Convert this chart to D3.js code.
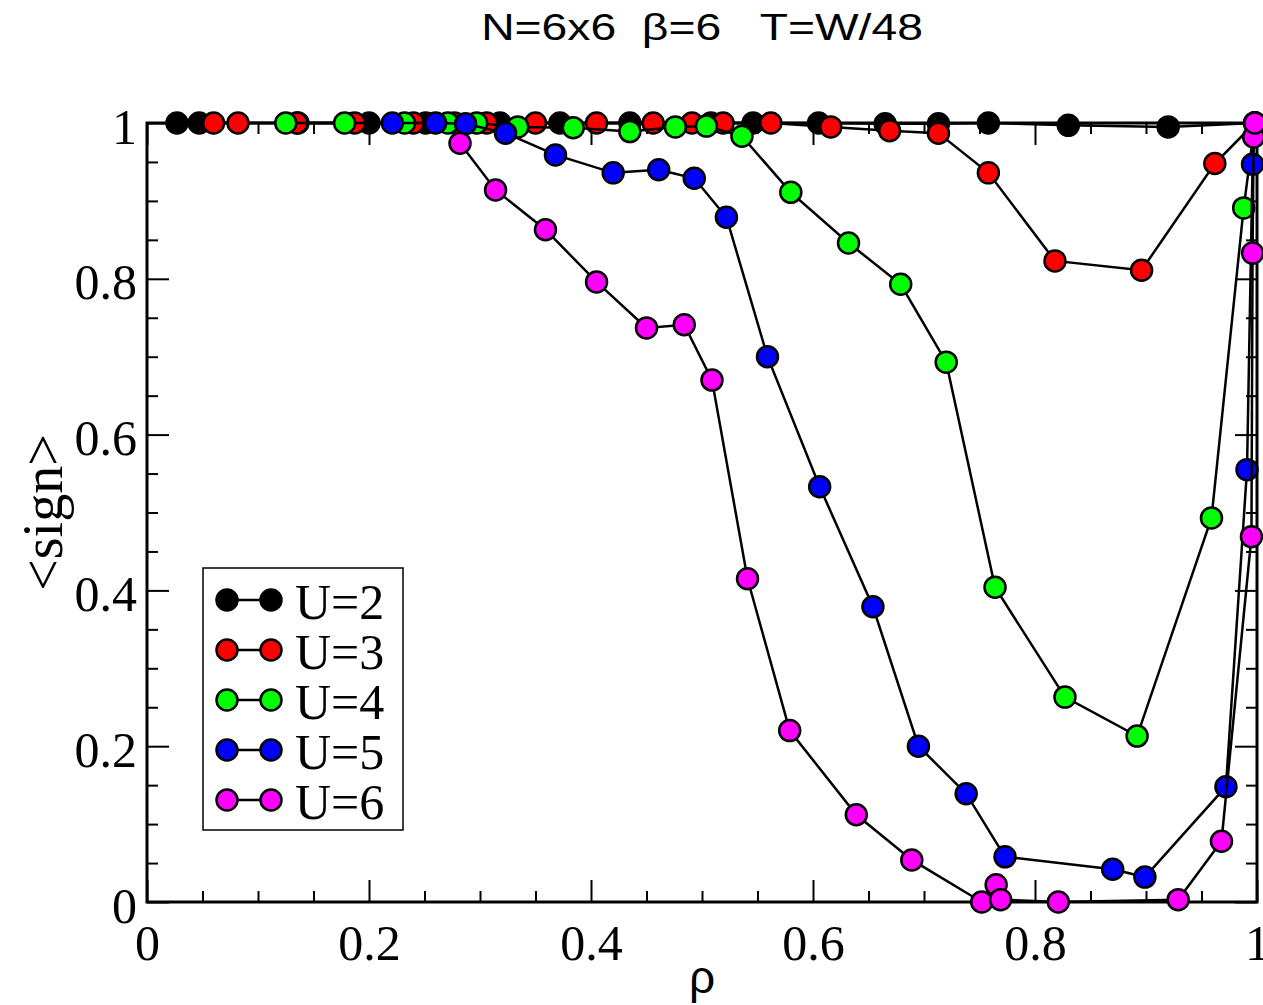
<!DOCTYPE html>
<html>
<head>
<meta charset="utf-8">
<script src="https://cdn.jsdelivr.net/npm/d3@7"></script>
<style>
  html, body { margin: 0; padding: 0; background: #fff; }
  svg { display: block; }
</style>
</head>
<body>
<svg id="chart" width="1263" height="1005"></svg>
<script>
// ---------- data ----------
const title = "N=6x6  \u03b2=6   T=W/48";
const xLabel = "\u03c1";
const yLabel = "<sign>";
const seriesNames = ["U=2", "U=3", "U=4", "U=5", "U=6"];
const seriesColors = ["#000000", "#ff0000", "#00ff00", "#0000ff", "#ff00ff"];

const rhoU2 = [0.027, 0.047, 0.136, 0.200, 0.251, 0.318, 0.372, 0.435, 0.508, 0.546, 0.605, 0.665, 0.713, 0.758, 0.830, 0.920, 0.998];
const signU2 = [1.000, 1.000, 1.000, 1.000, 1.000, 1.000, 1.000, 1.000, 1.000, 1.000, 1.000, 0.999, 0.999, 1.000, 0.997, 0.995, 1.000];

const rhoU3 = [0.060, 0.082, 0.135, 0.187, 0.240, 0.277, 0.306, 0.350, 0.405, 0.456, 0.491, 0.519, 0.562, 0.616, 0.669, 0.713, 0.758, 0.818, 0.896, 0.962, 0.998];
const signU3 = [1.000, 1.000, 1.000, 1.000, 1.000, 1.000, 1.000, 1.000, 1.000, 1.000, 1.000, 1.000, 1.000, 0.995, 0.990, 0.987, 0.936, 0.823, 0.811, 0.948, 1.000];

const rhoU4 = [0.125, 0.178, 0.232, 0.271, 0.297, 0.334, 0.384, 0.435, 0.476, 0.504, 0.536, 0.580, 0.632, 0.679, 0.720, 0.764, 0.827, 0.892, 0.959, 0.988, 0.998];
const signU4 = [1.000, 1.000, 1.000, 1.000, 1.000, 0.995, 0.994, 0.989, 0.995, 0.996, 0.983, 0.911, 0.846, 0.793, 0.693, 0.404, 0.263, 0.213, 0.493, 0.891, 1.000];

const rhoU5 = [0.221, 0.260, 0.287, 0.323, 0.368, 0.420, 0.461, 0.493, 0.522, 0.559, 0.606, 0.654, 0.695, 0.738, 0.773, 0.870, 0.899, 0.972, 0.991, 0.996, 0.998];
const signU5 = [1.000, 1.000, 0.999, 0.987, 0.959, 0.936, 0.940, 0.929, 0.879, 0.700, 0.533, 0.379, 0.200, 0.139, 0.058, 0.042, 0.032, 0.148, 0.555, 0.947, 1.000];

const rhoU6 = [0.282, 0.314, 0.359, 0.405, 0.450, 0.484, 0.509, 0.541, 0.579, 0.639, 0.689, 0.752, 0.765, 0.769, 0.821, 0.929, 0.968, 0.995, 0.996, 0.997, 0.998];
const signU6 = [0.974, 0.914, 0.863, 0.796, 0.737, 0.741, 0.670, 0.415, 0.220, 0.112, 0.054, 0.000, 0.022, 0.003, 0.000, 0.003, 0.078, 0.469, 0.833, 0.982, 1.000];

const xMajorTicks = [0, 0.2, 0.4, 0.6, 0.8, 1];
const yMajorTicks = [0, 0.2, 0.4, 0.6, 0.8, 1];
const xTickLabels = ["0", "0.2", "0.4", "0.6", "0.8", "1"];
const yTickLabels = ["0", "0.2", "0.4", "0.6", "0.8", "1"];

const seriesX = [rhoU2, rhoU3, rhoU4, rhoU5, rhoU6];
const seriesY = [signU2, signU3, signU4, signU5, signU6];

// ---------- layout ----------
const L = 147, R = 1257, T = 123, B = 902;
const svg = d3.select("#chart");
const x = d3.scaleLinear().domain([0, 1]).range([L, R]);
const y = d3.scaleLinear().domain([0, 1]).range([B, T]);
const minorTicks = d3.range(0, 1.0001, 0.05).map(v => +v.toFixed(2)).filter(v => !xMajorTicks.some(m => Math.abs(m - v) < 1e-9));

const serif = "'Liberation Serif', 'Times New Roman', serif";
const sans = "'Liberation Sans', Arial, sans-serif";

function styleAxis(g) {
  g.select(".domain").remove();
  g.selectAll(".tick line").attr("stroke", "#000").attr("stroke-width", 2);
}

// minor ticks (inward)
svg.append("g").attr("transform", `translate(0,${B})`)
  .call(d3.axisBottom(x).tickValues(minorTicks).tickSize(-11).tickFormat(""))
  .call(styleAxis);
svg.append("g").attr("transform", `translate(0,${T})`)
  .call(d3.axisTop(x).tickValues(minorTicks).tickSize(-11).tickFormat(""))
  .call(styleAxis);
svg.append("g").attr("transform", `translate(${L},0)`)
  .call(d3.axisLeft(y).tickValues(minorTicks).tickSize(-11).tickFormat(""))
  .call(styleAxis);
svg.append("g").attr("transform", `translate(${R},0)`)
  .call(d3.axisRight(y).tickValues(minorTicks).tickSize(-11).tickFormat(""))
  .call(styleAxis);

// major ticks
const xb = svg.append("g").attr("transform", `translate(0,${B})`)
  .call(d3.axisBottom(x).tickValues(xMajorTicks).tickSize(-22).tickPadding(0)
        .tickFormat((d, i) => xTickLabels[i]))
  .call(styleAxis);
xb.selectAll(".tick text").attr("y", 58).attr("dy", null)
  .attr("font-family", serif).attr("font-size", 50).attr("fill", "#000");

svg.append("g").attr("transform", `translate(0,${T})`)
  .call(d3.axisTop(x).tickValues(xMajorTicks).tickSize(-22).tickFormat(""))
  .call(styleAxis);

const yl = svg.append("g").attr("transform", `translate(${L},0)`)
  .call(d3.axisLeft(y).tickValues(yMajorTicks).tickSize(-22)
        .tickFormat((d, i) => yTickLabels[i]))
  .call(styleAxis);
yl.selectAll(".tick text").attr("x", -10).attr("dy", "0.40em")
  .attr("font-family", serif).attr("font-size", 50).attr("fill", "#000");

svg.append("g").attr("transform", `translate(${R},0)`)
  .call(d3.axisRight(y).tickValues(yMajorTicks).tickSize(-22).tickFormat(""))
  .call(styleAxis);

// frame
svg.append("rect").attr("x", L).attr("y", T).attr("width", R - L).attr("height", B - T)
  .attr("fill", "none").attr("stroke", "#000").attr("stroke-width", 3);

// series
const line = d3.line().x(d => x(d[0])).y(d => y(d[1]));
seriesNames.forEach((name, k) => {
  const pts = seriesX[k].map((v, i) => [v, seriesY[k][i]]);
  const g = svg.append("g");
  g.append("path").datum(pts).attr("d", line)
    .attr("fill", "none").attr("stroke", "#000").attr("stroke-width", 2.5);
  g.selectAll("circle").data(pts).join("circle")
    .attr("cx", d => x(d[0])).attr("cy", d => y(d[1])).attr("r", 10.5)
    .attr("fill", seriesColors[k]).attr("stroke", "#000").attr("stroke-width", 2.5);
});

// legend
const lg = svg.append("g");
lg.append("rect").attr("x", 203).attr("y", 568).attr("width", 200).attr("height", 262)
  .attr("fill", "#fff").attr("stroke", "#000").attr("stroke-width", 1.5);
seriesNames.forEach((name, k) => {
  const cy = 600 + k * 50;
  lg.append("line").attr("x1", 227).attr("x2", 271).attr("y1", cy).attr("y2", cy)
    .attr("stroke", "#000").attr("stroke-width", 2.5);
  [227, 271].forEach(cx => lg.append("circle").attr("cx", cx).attr("cy", cy).attr("r", 10.5)
    .attr("fill", seriesColors[k]).attr("stroke", "#000").attr("stroke-width", 2.5));
  lg.append("text").attr("x", 295).attr("y", cy + 19).text(name)
    .attr("font-family", serif).attr("font-size", 50).attr("fill", "#000");
});

// title and axis labels
svg.append("text").attr("transform", `translate(${(L + R) / 2},40) scale(1.25,1)`)
  .attr("text-anchor", "middle")
  .style("white-space", "pre").attr("font-family", sans).attr("font-size", 37)
  .attr("fill", "#000").text(title);
svg.append("text").attr("x", (L + R) / 2).attr("y", 993).attr("text-anchor", "middle")
  .attr("font-family", sans).attr("font-size", 46).attr("fill", "#000").text(xLabel);
svg.append("text").attr("transform", `translate(62,${(T + B) / 2}) rotate(-90)`)
  .attr("text-anchor", "middle").attr("font-family", serif).attr("font-size", 56)
  .attr("fill", "#000").text(yLabel);
</script>
</body>
</html>
